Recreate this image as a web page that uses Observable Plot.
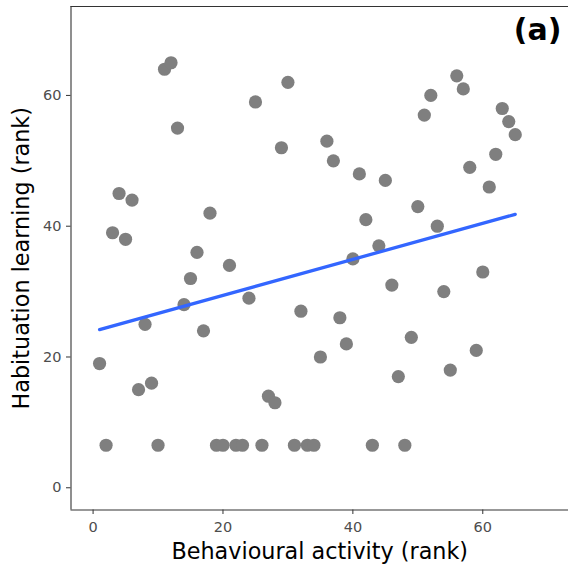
<!DOCTYPE html>
<html>
<head>
<meta charset="utf-8">
<script src="https://cdn.jsdelivr.net/npm/d3@7"></script>
<script src="https://cdn.jsdelivr.net/npm/@observablehq/plot@0.6"></script>
<style>
  html, body { margin: 0; padding: 0; background: #fff; overflow: hidden; }
</style>
</head>
<body>
<div id="chart"></div>
<script>
const activityRank = [1,2,3,4,5,6,7,8,9,10,11,12,13,14,15,16,17,18,19,20,21,22,23,24,25,26,27,28,29,30,31,32,33,34,35,36,37,38,39,40,41,42,43,44,45,46,47,48,49,50,51,52,53,54,55,56,57,58,59,60,61,62,63,64,65];
const learningRank = [19,6.5,39,45,38,44,15,25,16,6.5,64,65,55,28,32,36,24,42,6.5,6.5,34,6.5,6.5,29,59,6.5,14,13,52,62,6.5,27,6.5,6.5,20,53,50,26,22,35,48,41,6.5,37,47,31,17,6.5,23,43,57,60,40,30,18,63,61,49,21,33,46,51,58,56,54];
const xTicks = [0, 20, 40, 60];
const yTicks = [0, 20, 40, 60];
const xTitle = "Behavioural activity (rank)";
const yTitle = "Habituation learning (rank)";
const panelTag = "(a)";
const xDomain = [-3.4, 73.2];
const yDomain = [-3.4, 73.6];

const data = activityRank.map((x, i) => ({x, y: learningRank[i]}));

const chart = Plot.plot({
  width: 568,
  height: 574,
  marginLeft: 70.5,
  marginRight: 0,
  marginTop: 6,
  marginBottom: 64.5,
  style: {fontFamily: "'DejaVu Sans', sans-serif", background: "#fff"},
  x: {domain: xDomain, axis: null},
  y: {domain: yDomain, axis: null},
  marks: [
    Plot.dot(data, {x: "x", y: "y", r: 6.6, fill: "#7f7f7f", stroke: null}),
    Plot.linearRegressionY(data, {x: "x", y: "y", stroke: "#3366FF", strokeWidth: 3.3, ci: 0}),
    Plot.ruleY([yDomain[0]], {stroke: "#333", strokeWidth: 1.1}),
    Plot.ruleY([yDomain[1]], {stroke: "#333", strokeWidth: 1.1}),
    Plot.ruleX([xDomain[0]], {stroke: "#333", strokeWidth: 1.1}),
    Plot.axisX({ticks: xTicks, tickSize: 4.5, tickPadding: 7.5, fontSize: 14.5, stroke: "#333", fill: "#4d4d4d", label: null, tickFormat: d => d}),
    Plot.axisY({ticks: yTicks, tickSize: 4.5, tickPadding: 5, fontSize: 14.5, stroke: "#333", fill: "#4d4d4d", label: null, tickFormat: d => d}),
    Plot.text([xTitle], {frameAnchor: "bottom", text: d => d, dy: 42, fontSize: 22.3, fill: "#000", textAnchor: "middle", lineAnchor: "middle"}),
    Plot.text([yTitle], {frameAnchor: "left", text: d => d, dx: -49, rotate: -90, fontSize: 22.3, fill: "#000", textAnchor: "middle", lineAnchor: "middle"}),
    Plot.text([panelTag], {frameAnchor: "top-right", text: d => d, dx: -7, dy: 24, fontSize: 30, fontWeight: "bold", fontFamily: "'DejaVu Sans', sans-serif", fill: "#000", textAnchor: "end", lineAnchor: "middle"})
  ]
});
document.getElementById("chart").appendChild(chart);
</script>
</body>
</html>
